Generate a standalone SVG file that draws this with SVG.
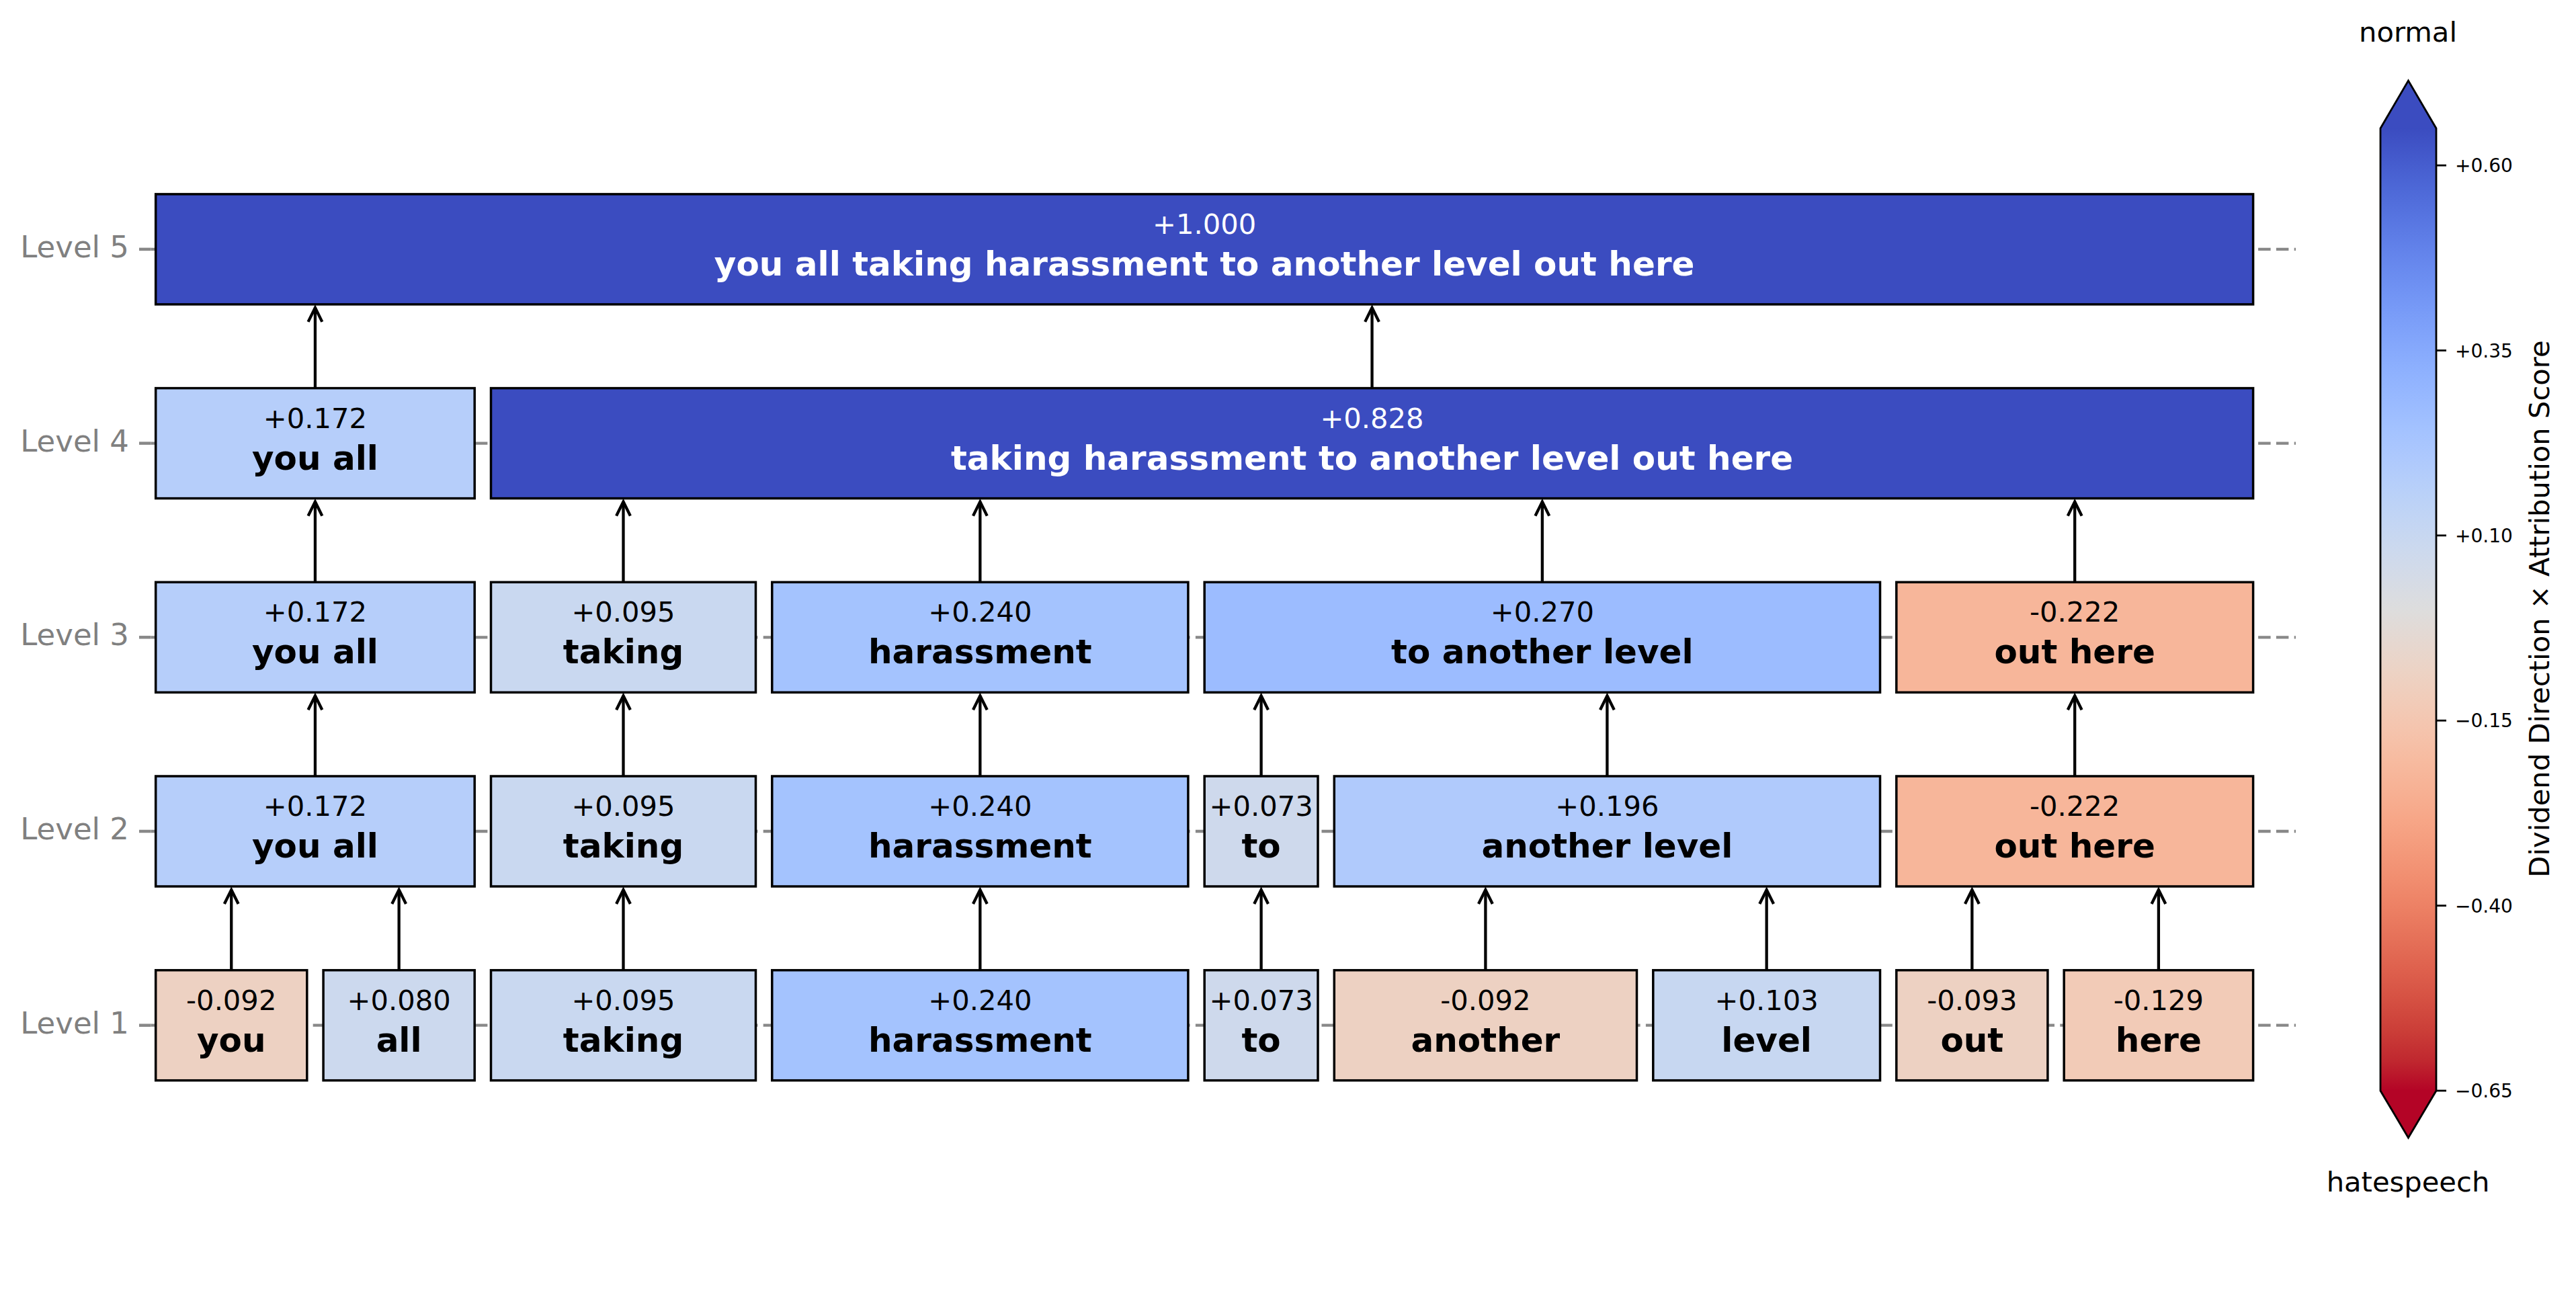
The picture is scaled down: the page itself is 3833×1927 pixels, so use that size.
<svg xmlns="http://www.w3.org/2000/svg" width="3833" height="1927" viewBox="0 0 3833 1927">
<style>
.box{stroke:#000;stroke-width:3.5}
.val{font-family:"DejaVu Sans",sans-serif;font-size:41.67px;text-anchor:middle;fill:#000}
.word{font-family:"DejaVu Sans",sans-serif;font-size:50px;font-weight:bold;text-anchor:middle;fill:#000}
.w{fill:#fff}
.lvl{font-family:"DejaVu Sans",sans-serif;font-size:45px;text-anchor:end;fill:#808080}
.grid{stroke:#888;stroke-width:4.3;stroke-dasharray:18.5 8.3;stroke-dashoffset:0;fill:none}
.ytick{stroke:#888;stroke-width:4.5}
.arrow{stroke:#000;stroke-width:4.3;fill:none}
.cbt{font-family:"DejaVu Sans",sans-serif;font-size:28px;fill:#000}
.cbl{font-family:"DejaVu Sans",sans-serif;font-size:41.67px;fill:#000;text-anchor:middle}
.tk{stroke:#000;stroke-width:2.8}
</style>
<defs>
<marker id="ah" markerUnits="userSpaceOnUse" markerWidth="60" markerHeight="60" viewBox="-40 -30 60 60" refX="0" refY="0" orient="auto" overflow="visible">
<path d="M-21,-10.4 L0,0 L-21,10.4" fill="none" stroke="#000" stroke-width="4.3" stroke-linejoin="miter"/>
</marker>
<linearGradient id="cmap" gradientUnits="userSpaceOnUse" x1="0" y1="191" x2="0" y2="1623">
<stop offset="0" stop-color="rgb(59,76,192)"/>
<stop offset="0.03125" stop-color="rgb(68,90,204)"/>
<stop offset="0.0625" stop-color="rgb(77,104,215)"/>
<stop offset="0.09375" stop-color="rgb(87,117,225)"/>
<stop offset="0.125" stop-color="rgb(98,130,234)"/>
<stop offset="0.15625" stop-color="rgb(108,142,241)"/>
<stop offset="0.1875" stop-color="rgb(119,154,247)"/>
<stop offset="0.21875" stop-color="rgb(130,165,251)"/>
<stop offset="0.25" stop-color="rgb(141,176,254)"/>
<stop offset="0.28125" stop-color="rgb(152,185,255)"/>
<stop offset="0.3125" stop-color="rgb(163,194,255)"/>
<stop offset="0.34375" stop-color="rgb(174,201,253)"/>
<stop offset="0.375" stop-color="rgb(184,208,249)"/>
<stop offset="0.40625" stop-color="rgb(194,213,244)"/>
<stop offset="0.4375" stop-color="rgb(204,217,238)"/>
<stop offset="0.46875" stop-color="rgb(213,219,230)"/>
<stop offset="0.5" stop-color="rgb(221,221,221)"/>
<stop offset="0.53125" stop-color="rgb(229,216,209)"/>
<stop offset="0.5625" stop-color="rgb(236,211,197)"/>
<stop offset="0.59375" stop-color="rgb(241,204,185)"/>
<stop offset="0.625" stop-color="rgb(245,196,173)"/>
<stop offset="0.65625" stop-color="rgb(247,187,160)"/>
<stop offset="0.6875" stop-color="rgb(247,177,148)"/>
<stop offset="0.71875" stop-color="rgb(247,166,135)"/>
<stop offset="0.75" stop-color="rgb(244,154,123)"/>
<stop offset="0.78125" stop-color="rgb(241,141,111)"/>
<stop offset="0.8125" stop-color="rgb(236,127,99)"/>
<stop offset="0.84375" stop-color="rgb(229,112,88)"/>
<stop offset="0.875" stop-color="rgb(222,96,77)"/>
<stop offset="0.90625" stop-color="rgb(213,80,66)"/>
<stop offset="0.9375" stop-color="rgb(203,62,56)"/>
<stop offset="0.96875" stop-color="rgb(192,40,47)"/>
<stop offset="1" stop-color="rgb(180,4,38)"/>
</linearGradient>
</defs>
<rect x="0" y="0" width="3833" height="1927" fill="#fff"/>

<g id="level-axis">
<line class="grid" x1="224.5" y1="370.9" x2="3416" y2="370.9"/>
<line class="grid" x1="224.5" y1="659.6" x2="3416" y2="659.6"/>
<line class="grid" x1="224.5" y1="948.3" x2="3416" y2="948.3"/>
<line class="grid" x1="224.5" y1="1237" x2="3416" y2="1237"/>
<line class="grid" x1="224.5" y1="1525.7" x2="3416" y2="1525.7"/>
<line class="ytick" x1="207" y1="370.9" x2="224.5" y2="370.9"/>
<line class="ytick" x1="207" y1="659.6" x2="224.5" y2="659.6"/>
<line class="ytick" x1="207" y1="948.3" x2="224.5" y2="948.3"/>
<line class="ytick" x1="207" y1="1237" x2="224.5" y2="1237"/>
<line class="ytick" x1="207" y1="1525.7" x2="224.5" y2="1525.7"/>
<text class="lvl" x="192" y="382.9">Level 5</text>
<text class="lvl" x="192" y="671.6">Level 4</text>
<text class="lvl" x="192" y="960.3">Level 3</text>
<text class="lvl" x="192" y="1249">Level 2</text>
<text class="lvl" x="192" y="1537.7">Level 1</text>
</g>

<g id="connectors">
<line class="arrow" marker-end="url(#ah)" x1="344.25" y1="1443.7" x2="344.25" y2="1324"/>
<line class="arrow" marker-end="url(#ah)" x1="593.65" y1="1443.7" x2="593.65" y2="1324"/>
<line class="arrow" marker-end="url(#ah)" x1="927.5" y1="1443.7" x2="927.5" y2="1324"/>
<line class="arrow" marker-end="url(#ah)" x1="1458.35" y1="1443.7" x2="1458.35" y2="1324"/>
<line class="arrow" marker-end="url(#ah)" x1="1876.6" y1="1443.7" x2="1876.6" y2="1324"/>
<line class="arrow" marker-end="url(#ah)" x1="2210.4" y1="1443.7" x2="2210.4" y2="1324"/>
<line class="arrow" marker-end="url(#ah)" x1="2628.65" y1="1443.7" x2="2628.65" y2="1324"/>
<line class="arrow" marker-end="url(#ah)" x1="2934.35" y1="1443.7" x2="2934.35" y2="1324"/>
<line class="arrow" marker-end="url(#ah)" x1="3211.9" y1="1443.7" x2="3211.9" y2="1324"/>

<line class="arrow" marker-end="url(#ah)" x1="468.95" y1="1155" x2="468.95" y2="1035.3"/>
<line class="arrow" marker-end="url(#ah)" x1="927.5" y1="1155" x2="927.5" y2="1035.3"/>
<line class="arrow" marker-end="url(#ah)" x1="1458.35" y1="1155" x2="1458.35" y2="1035.3"/>
<line class="arrow" marker-end="url(#ah)" x1="1876.6" y1="1155" x2="1876.6" y2="1035.3"/>
<line class="arrow" marker-end="url(#ah)" x1="2391.4" y1="1155" x2="2391.4" y2="1035.3"/>
<line class="arrow" marker-end="url(#ah)" x1="3087.2" y1="1155" x2="3087.2" y2="1035.3"/>

<line class="arrow" marker-end="url(#ah)" x1="468.95" y1="866.3" x2="468.95" y2="746.6"/>
<line class="arrow" marker-end="url(#ah)" x1="927.5" y1="866.3" x2="927.5" y2="746.6"/>
<line class="arrow" marker-end="url(#ah)" x1="1458.35" y1="866.3" x2="1458.35" y2="746.6"/>
<line class="arrow" marker-end="url(#ah)" x1="2294.85" y1="866.3" x2="2294.85" y2="746.6"/>
<line class="arrow" marker-end="url(#ah)" x1="3087.2" y1="866.3" x2="3087.2" y2="746.6"/>

<line class="arrow" marker-end="url(#ah)" x1="468.95" y1="577.6" x2="468.95" y2="457.9"/>
<line class="arrow" marker-end="url(#ah)" x1="2041.55" y1="577.6" x2="2041.55" y2="457.9"/>
</g>

<g id="L5-all">
<rect class="box" x="231.7" y="288.9" width="3120.9" height="164" fill="#3b4cc0"/>
<text class="val w" x="1792.15" y="347.9">+1.000</text>
<text class="word w" x="1792.15" y="409.9">you all taking harassment to another level out here</text>
</g>

<g id="L4-you-all">
<rect class="box" x="231.7" y="577.6" width="474.5" height="164" fill="#b6cefa"/>
<text class="val" x="468.95" y="636.6">+0.172</text>
<text class="word" x="468.95" y="698.6">you all</text>
</g>
<g id="L4-taking-here">
<rect class="box" x="730.5" y="577.6" width="2622.1" height="164" fill="#3b4cc0"/>
<text class="val w" x="2041.55" y="636.6">+0.828</text>
<text class="word w" x="2041.55" y="698.6">taking harassment to another level out here</text>
</g>

<g id="L3-you-all">
<rect class="box" x="231.7" y="866.3" width="474.5" height="164" fill="#b6cefa"/>
<text class="val" x="468.95" y="925.3">+0.172</text>
<text class="word" x="468.95" y="987.3">you all</text>
</g>
<g id="L3-taking">
<rect class="box" x="730.5" y="866.3" width="394" height="164" fill="#c9d8f0"/>
<text class="val" x="927.5" y="925.3">+0.095</text>
<text class="word" x="927.5" y="987.3">taking</text>
</g>
<g id="L3-harassment">
<rect class="box" x="1148.8" y="866.3" width="619.1" height="164" fill="#a4c3fe"/>
<text class="val" x="1458.35" y="925.3">+0.240</text>
<text class="word" x="1458.35" y="987.3">harassment</text>
</g>
<g id="L3-to-another-level">
<rect class="box" x="1792.2" y="866.3" width="1005.3" height="164" fill="#9cbcff"/>
<text class="val" x="2294.85" y="925.3">+0.270</text>
<text class="word" x="2294.85" y="987.3">to another level</text>
</g>
<g id="L3-out-here">
<rect class="box" x="2821.8" y="866.3" width="530.8" height="164" fill="#f7b69a"/>
<text class="val" x="3087.2" y="925.3">-0.222</text>
<text class="word" x="3087.2" y="987.3">out here</text>
</g>

<g id="L2-you-all">
<rect class="box" x="231.7" y="1155" width="474.5" height="164" fill="#b6cefa"/>
<text class="val" x="468.95" y="1214">+0.172</text>
<text class="word" x="468.95" y="1276">you all</text>
</g>
<g id="L2-taking">
<rect class="box" x="730.5" y="1155" width="394" height="164" fill="#c9d8f0"/>
<text class="val" x="927.5" y="1214">+0.095</text>
<text class="word" x="927.5" y="1276">taking</text>
</g>
<g id="L2-harassment">
<rect class="box" x="1148.8" y="1155" width="619.1" height="164" fill="#a4c3fe"/>
<text class="val" x="1458.35" y="1214">+0.240</text>
<text class="word" x="1458.35" y="1276">harassment</text>
</g>
<g id="L2-to">
<rect class="box" x="1792.2" y="1155" width="168.8" height="164" fill="#ced9ec"/>
<text class="val" x="1876.6" y="1214">+0.073</text>
<text class="word" x="1876.6" y="1276">to</text>
</g>
<g id="L2-another-level">
<rect class="box" x="1985.3" y="1155" width="812.2" height="164" fill="#b0cafc"/>
<text class="val" x="2391.4" y="1214">+0.196</text>
<text class="word" x="2391.4" y="1276">another level</text>
</g>
<g id="L2-out-here">
<rect class="box" x="2821.8" y="1155" width="530.8" height="164" fill="#f7b69a"/>
<text class="val" x="3087.2" y="1214">-0.222</text>
<text class="word" x="3087.2" y="1276">out here</text>
</g>

<g id="L1-you">
<rect class="box" x="231.7" y="1443.7" width="225.1" height="164" fill="#edd1c2"/>
<text class="val" x="344.25" y="1502.7">-0.092</text>
<text class="word" x="344.25" y="1564.7">you</text>
</g>
<g id="L1-all">
<rect class="box" x="481.1" y="1443.7" width="225.1" height="164" fill="#ccd9ee"/>
<text class="val" x="593.65" y="1502.7">+0.080</text>
<text class="word" x="593.65" y="1564.7">all</text>
</g>
<g id="L1-taking">
<rect class="box" x="730.5" y="1443.7" width="394" height="164" fill="#c9d8f0"/>
<text class="val" x="927.5" y="1502.7">+0.095</text>
<text class="word" x="927.5" y="1564.7">taking</text>
</g>
<g id="L1-harassment">
<rect class="box" x="1148.8" y="1443.7" width="619.1" height="164" fill="#a4c3fe"/>
<text class="val" x="1458.35" y="1502.7">+0.240</text>
<text class="word" x="1458.35" y="1564.7">harassment</text>
</g>
<g id="L1-to">
<rect class="box" x="1792.2" y="1443.7" width="168.8" height="164" fill="#ced9ec"/>
<text class="val" x="1876.6" y="1502.7">+0.073</text>
<text class="word" x="1876.6" y="1564.7">to</text>
</g>
<g id="L1-another">
<rect class="box" x="1985.3" y="1443.7" width="450.2" height="164" fill="#edd1c2"/>
<text class="val" x="2210.4" y="1502.7">-0.092</text>
<text class="word" x="2210.4" y="1564.7">another</text>
</g>
<g id="L1-level">
<rect class="box" x="2459.8" y="1443.7" width="337.7" height="164" fill="#c7d7f1"/>
<text class="val" x="2628.65" y="1502.7">+0.103</text>
<text class="word" x="2628.65" y="1564.7">level</text>
</g>
<g id="L1-out">
<rect class="box" x="2821.8" y="1443.7" width="225.1" height="164" fill="#edd1c2"/>
<text class="val" x="2934.35" y="1502.7">-0.093</text>
<text class="word" x="2934.35" y="1564.7">out</text>
</g>
<g id="L1-here">
<rect class="box" x="3071.2" y="1443.7" width="281.4" height="164" fill="#f2cbb7"/>
<text class="val" x="3211.9" y="1502.7">-0.129</text>
<text class="word" x="3211.9" y="1564.7">here</text>
</g>

<g id="colorbar">
<rect x="3542" y="191" width="83" height="1432" fill="url(#cmap)"/>
<polygon points="3542,191.5 3583.5,120 3625,191.5" fill="#3b4cc0"/>
<polygon points="3542,1622.5 3583.5,1693 3625,1622.5" fill="#b40426"/>
<path d="M3542,191 L3583.5,120 L3625,191 L3625,1623 L3583.5,1693 L3542,1623 Z" fill="none" stroke="#000" stroke-width="2.8"/>
<line class="tk" x1="3625" y1="246.1" x2="3640" y2="246.1"/>
<line class="tk" x1="3625" y1="521.5" x2="3640" y2="521.5"/>
<line class="tk" x1="3625" y1="796.8" x2="3640" y2="796.8"/>
<line class="tk" x1="3625" y1="1072.2" x2="3640" y2="1072.2"/>
<line class="tk" x1="3625" y1="1347.6" x2="3640" y2="1347.6"/>
<line class="tk" x1="3625" y1="1623" x2="3640" y2="1623"/>
<text class="cbt" x="3653" y="256.1">+0.60</text>
<text class="cbt" x="3653" y="531.5">+0.35</text>
<text class="cbt" x="3653" y="806.8">+0.10</text>
<text class="cbt" x="3653" y="1082.2">−0.15</text>
<text class="cbt" x="3653" y="1357.6">−0.40</text>
<text class="cbt" x="3653" y="1633">−0.65</text>
<text class="cbl" x="3583" y="62">normal</text>
<text class="cbl" x="3583" y="1773">hatespeech</text>
<text class="cbl" transform="translate(3793,906) rotate(-90)">Dividend Direction × Attribution Score</text>
</g>
</svg>
